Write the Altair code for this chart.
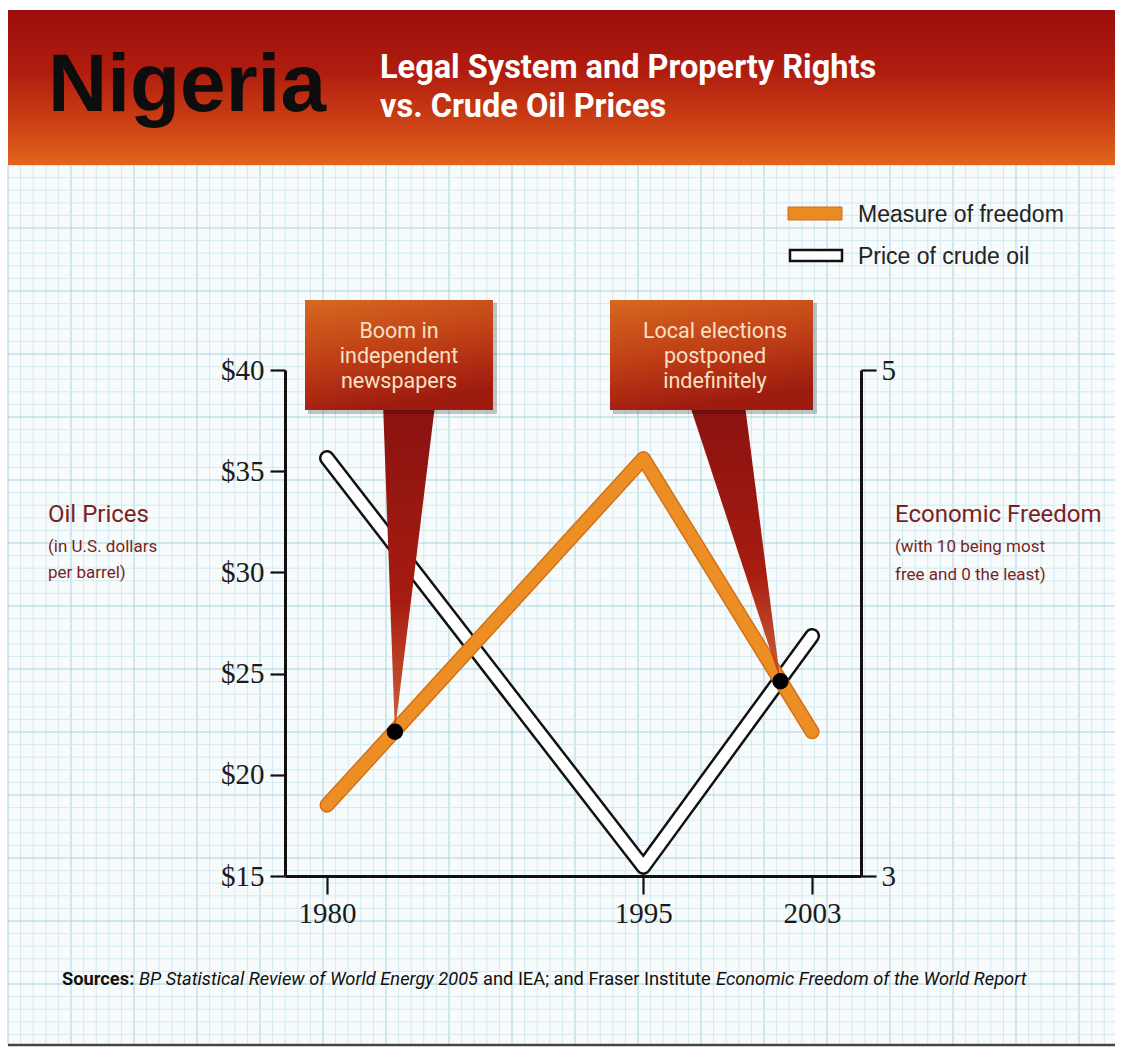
import altair as alt
import numpy as np

# ---------------- data ----------------
YEARS = [1980, 1995, 2003]
OIL_PRICE = [35.65, 15.45, 26.86]         # US$ per barrel
FREEDOM = [3.28, 4.65, 3.57]              # economic freedom index
EVENT_YEARS = [1983.22, 2001.5]
EVENT_FREEDOM = [3.57, 3.77]
EVENT_LINES = [["Boom in", "independent", "newspapers"],
               ["Local elections", "postponed", "indefinitely"]]
# pointer wedges (data units): left/right year at top, top freedom level
PTR_TOP_LEFT = [1982.66, 1997.21]
PTR_TOP_RIGHT = [1985.12, 1999.82]
PTR_TOP_F = 4.86
X_TICKS = [1980, 1995, 2003]
PRICE_TICKS = [15, 20, 25, 30, 35, 40]
FREEDOM_TICKS = [3, 4, 5]
LEGEND = ["Measure of freedom", "Price of crude oil"]
SOURCES = [("Sources:", "bold", "normal"),
           ("BP Statistical Review of World Energy 2005", "normal", "italic"),
           ("and IEA; and Fraser Institute", "normal", "normal"),
           ("Economic Freedom of the World Report", "normal", "italic")]
SOURCE_X = [62, 139, 483, 716]

# ---------------- layout ----------------
W, H = 1123, 1051
OX, OY = 285, 370           # plot origin on canvas
PW, PH = 576, 506           # plot area (axis box)

XS = alt.Scale(domain=[1978.009, 2005.32], nice=False, zero=False)
YS = alt.Scale(domain=[15, 40], nice=False, zero=False)
FS = alt.Scale(domain=[3, 5], nice=False, zero=False)

AX_COMMON = dict(labelFont="Liberation Serif", labelFontSize=29, labelColor="#1a1a1a",
                 tickColor="#111", tickWidth=2.2, domainColor="#111", domainWidth=3,
                 grid=False, title=None, zindex=1)
XAXIS = alt.Axis(values=X_TICKS, format="d", tickSize=18, labelPadding=5, **AX_COMMON)
YAXIS = alt.Axis(values=PRICE_TICKS, labelExpr="'$' + datum.value", orient="left",
                 tickSize=15, labelPadding=6, **AX_COMMON)
FAXIS = alt.Axis(values=FREEDOM_TICKS, format="d", orient="right",
                 tickSize=15, labelPadding=5, **AX_COMMON)

DUMMY = alt.Data(values=[{"a": 1}])
SANS = "Roboto"


def v(p, o):
    return alt.value(p - o)


def txt(s, x, y, size, color="#111", font="Liberation Sans", weight="normal",
        style="normal", align="left"):
    return alt.Chart(DUMMY).mark_text(
        align=align, baseline="alphabetic", font=font, fontSize=size,
        fontWeight=weight, fontStyle=style, color=color
    ).encode(x=v(x, OX), y=v(y, OY), text=alt.value(s))


def rect(x1, y1, x2, y2, **kw):
    return alt.Chart(DUMMY).mark_rect(**kw).encode(
        x=v(x1, OX), x2=v(x2, OX), y=v(y1, OY), y2=v(y2, OY))


# ---------------- graph paper ----------------
paper = rect(8, 165, 1115, 1045, fill="#F7FBFC")
step = 12.6
gx = np.arange(8, 1115, step)
gy = np.arange(165, 1045, step)
vgrid = [{"gx": float(x - OX), "c": "#A7D3DE" if i % 5 == 0 else "#D3EAF0"} for i, x in enumerate(gx)]
hgrid = [{"gy": float(y - OY), "c": "#A7D3DE" if i % 5 == 0 else "#D3EAF0"} for i, y in enumerate(gy)]
vg = alt.Chart(alt.Data(values=vgrid)).mark_rule(strokeWidth=1).encode(
    x=alt.X("gx:Q", scale=None), y=v(165, OY), y2=v(1045, OY),
    color=alt.Color("c:N", scale=None))
hg = alt.Chart(alt.Data(values=hgrid)).mark_rule(strokeWidth=1).encode(
    y=alt.Y("gy:Q", scale=None), x=v(8, OX), x2=v(1115, OX),
    color=alt.Color("c:N", scale=None))
bottom_edge = alt.Chart(DUMMY).mark_rule(color="#444", strokeWidth=2.5).encode(
    x=v(8, OX), x2=v(1115, OX), y=v(1045, OY))

# ---------------- banner ----------------
banner = rect(8, 10, 1115, 165, fill={
    "gradient": "linear", "x1": 0, "y1": 0, "x2": 0, "y2": 1,
    "stops": [{"offset": 0, "color": "#9C0E0D"}, {"offset": 0.4, "color": "#B01D0F"},
              {"offset": 0.78, "color": "#D04616"}, {"offset": 1, "color": "#E2661E"}]})
title = txt("Nigeria", 48, 111, 82, color="#0d0d0d", weight="bold")
sub1 = txt("Legal System and Property Rights", 380, 78, 32.5, color="#FFFFFF",
           font=SANS, weight="bold")
sub2 = txt("vs. Crude Oil Prices", 380, 117, 32.5, color="#FFFFFF",
           font=SANS, weight="bold")

# ---------------- legend ----------------
leg1 = rect(788, 207, 842, 220, fill="#E98A22", stroke="#C8701A", strokeWidth=1)
leg2 = rect(790, 250, 842, 261, fill="#FFFFFF", stroke="#111", strokeWidth=2.5)
leg1t = txt(LEGEND[0], 858, 222, 23, color="#222")
leg2t = txt(LEGEND[1], 858, 264, 23, color="#222")

# ---------------- axis titles ----------------
TC = "#7A1F1F"
at = [
    txt("Oil Prices", 48, 522, 24, color=TC, font=SANS),
    txt("(in U.S. dollars", 48, 552, 17, color=TC, font=SANS),
    txt("per barrel)", 48, 578, 17, color=TC, font=SANS),
    txt("Economic Freedom", 895, 522, 24, color=TC, font=SANS),
    txt("(with 10 being most", 895, 552, 17, color=TC, font=SANS),
    txt("free and 0 the least)", 895, 580, 17, color=TC, font=SANS),
]

# ---------------- sources ----------------
src = [txt(s, x, 985, 18.3, font=SANS, weight=w, style=st)
       for (s, w, st), x in zip(SOURCES, SOURCE_X)]

# ---------------- data layers ----------------
oil_rows = [{"year": y, "price": p} for y, p in zip(YEARS, OIL_PRICE)]
fr_rows = [{"year": y, "freedom": f} for y, f in zip(YEARS, FREEDOM)]
ev_rows = [{"year": y, "freedom": f} for y, f in zip(EVENT_YEARS, EVENT_FREEDOM)]

base_oil = alt.Chart(alt.Data(values=oil_rows)).encode(
    x=alt.X("year:Q", scale=XS, axis=XAXIS),
    y=alt.Y("price:Q", scale=YS, axis=YAXIS))
oil_outer = base_oil.mark_line(color="#111", strokeWidth=16, strokeCap="round", strokeJoin="round")
oil_inner = base_oil.mark_line(color="#FFFFFF", strokeWidth=11, strokeCap="round", strokeJoin="round")
price_group = alt.layer(oil_outer, oil_inner)

base_fr = alt.Chart(alt.Data(values=fr_rows)).encode(
    x=alt.X("year:Q", scale=XS, axis=XAXIS),
    y=alt.Y("freedom:Q", scale=FS, axis=FAXIS))
fr_edge = base_fr.mark_line(color="#D0731A", strokeWidth=15, strokeCap="round", strokeJoin="round")
fr_line = base_fr.mark_line(color="#EC8E24", strokeWidth=12, strokeCap="round", strokeJoin="round")

ptr_layers = []
for i in range(2):
    rows = [{"f": PTR_TOP_F, "xa": PTR_TOP_LEFT[i], "xb": PTR_TOP_RIGHT[i]},
            {"f": EVENT_FREEDOM[i], "xa": EVENT_YEARS[i], "xb": EVENT_YEARS[i]}]
    ptr_layers.append(
        alt.Chart(alt.Data(values=rows)).mark_area(
            orient="horizontal",
            fill={"gradient": "linear", "x1": 0, "y1": 0, "x2": 0, "y2": 1,
                  "stops": [{"offset": 0, "color": "#8A1210"},
                            {"offset": 0.6, "color": "#A61C10"},
                            {"offset": 1, "color": "rgba(200,70,28,0.85)"}]}
        ).encode(
            y=alt.Y("f:Q", scale=FS, axis=FAXIS),
            x=alt.X("xa:Q", scale=XS, axis=XAXIS),
            x2="xb:Q"))

dots = alt.Chart(alt.Data(values=ev_rows)).mark_circle(size=270, color="#000", opacity=1).encode(
    x=alt.X("year:Q", scale=XS, axis=XAXIS),
    y=alt.Y("freedom:Q", scale=FS, axis=FAXIS))
freedom_group = alt.layer(fr_edge, fr_line, *ptr_layers, dots)

# ---------------- callout boxes ----------------
BOX_GRAD = {"gradient": "linear", "x1": 0, "y1": 0, "x2": 0.3, "y2": 1,
            "stops": [{"offset": 0, "color": "#D8681F"}, {"offset": 0.55, "color": "#BE3E16"},
                      {"offset": 1, "color": "#9E1C0F"}]}
boxes = []
for (x1, x2, cx), lines in zip([(305, 493, 399), (610, 813, 715)], EVENT_LINES):
    boxes.append(rect(x1 + 3, 303, x2 + 4, 414, fill="#000", opacity=0.22))
    boxes.append(rect(x1, 300, x2, 410, fill=BOX_GRAD))
    for k, s in enumerate(lines):
        boxes.append(txt(s, cx, 337.5 + 25.3 * k, 21.5, color="#F8E0C6", font=SANS, align="center"))

chart = alt.layer(
    paper, vg, hg, bottom_edge, banner, title, sub1, sub2,
    leg1, leg2, leg1t, leg2t, *at, *src,
    price_group, freedom_group, *boxes
).resolve_scale(y="independent").properties(
    width=PW, height=PH,
    padding={"left": OX, "top": OY, "right": W - OX - PW, "bottom": H - OY - PH},
    autosize="none", background="#FFFFFF"
).configure_view(stroke=None)

chart.save("out.html", embed_options={"renderer": "svg", "actions": False})
